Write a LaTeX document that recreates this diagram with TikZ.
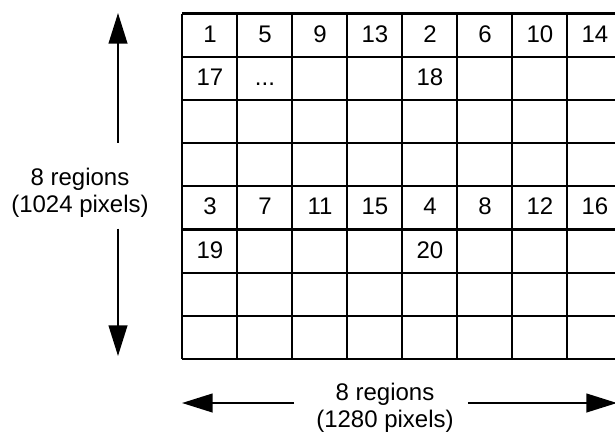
\documentclass[tikz,border=0pt]{standalone}
\usepackage{fontspec}
\setmainfont{Liberation Sans}
\usetikzlibrary{arrows.meta}

\begin{document}
\begin{tikzpicture}[x=0.75pt,y=-0.75pt,
    gridline/.style={line width=1.6pt},
    cell/.style={font=\fontsize{18}{20}\selectfont,inner sep=0pt,anchor=base},
    dimline/.style={line width=1.6pt,-{Triangle[length=23pt,width=14pt]}},
    dimlabel/.style={font=\fontsize{18}{20.25}\selectfont,align=center,inner sep=0pt}]
  \useasboundingbox (0,0) rectangle (615,432);
  \clip (0,0) rectangle (615,432);
  % 8 x 8 regions
  \foreach \i in {0,...,8} {
    \draw[gridline] ({182+55*\i},13.5) -- ({182+55*\i},359);
    \draw[gridline] (182,{13.5+43.2*\i}) -- (622,{13.5+43.2*\i});
  }
  \foreach \t [count=\c from 0] in {1,5,9,13,2,6,10,14}
    \node[cell] (ra\c) at ({210+55*\c},42) {\t};
  \foreach \t [count=\c from 0] in {3,7,11,15,4,8,12,16}
    \node[cell] (re\c) at ({210+55*\c},214.8) {\t};
  \node[cell] (rb0) at (210,85.2) {17};
  \node[cell] (rb1) at (265,85.2) {...};
  \node[cell] (rb4) at (430,85.2) {18};
  \node[cell] (rf0) at (210,258) {19};
  \node[cell] (rf4) at (430,258) {20};
  % dimensions
  \coordinate (vtop) at (118,13);
  \coordinate (vbot) at (118,356);
  \coordinate (hleft) at (182,403);
  \coordinate (hright) at (617,403);
  \node[dimlabel] (vlab) at (80,193) {8 regions\\(1024 pixels)};
  \node[dimlabel] (hlab) at (385,408) {8 regions\\(1280 pixels)};
  \draw[dimline,shorten <=19pt] (vlab.north -| vtop) -- (vtop);
  \draw[dimline,shorten <=8pt] (vlab.south -| vbot) -- (vbot);
  \draw[dimline,shorten <=16.5pt] (hlab.west |- hleft) -- (hleft);
  \draw[dimline,shorten <=10.5pt] (hlab.east |- hright) -- (hright);
\end{tikzpicture}
\end{document}
